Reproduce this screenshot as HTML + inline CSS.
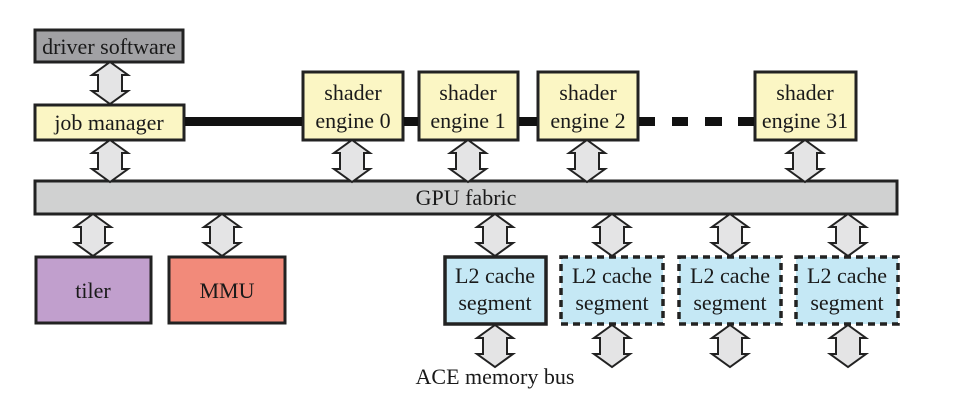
<!DOCTYPE html>
<html><head><meta charset="utf-8"><style>
html,body{margin:0;padding:0;background:#fff;}
svg{display:block;}
text{font-family:"Liberation Serif",serif;font-size:22px;fill:#1a1a1a;text-anchor:middle;}
</style></head><body>
<svg width="963" height="418" viewBox="0 0 963 418" xmlns="http://www.w3.org/2000/svg">
<g stroke="#222" stroke-width="3">
<rect x="35" y="30" width="148" height="32" fill="#a1a1a4"/>
<rect x="35" y="105" width="149" height="35" fill="#fbf6c4"/>
<rect x="303" y="72" width="100" height="68" fill="#fbf6c4"/>
<rect x="419" y="72" width="99" height="68" fill="#fbf6c4"/>
<rect x="538" y="72" width="100" height="68" fill="#fbf6c4"/>
<rect x="755" y="72" width="101" height="68" fill="#fbf6c4"/>
<rect x="35" y="181" width="862" height="33" fill="#d0d1d1"/>
<rect x="36" y="257" width="115" height="66" fill="#c19fcd"/>
<rect x="169" y="257" width="116" height="66" fill="#f28a7a"/>
<rect x="445" y="257" width="101" height="67" fill="#c5e8f5" stroke-width="3.5"/>
<g stroke-dasharray="7,5" stroke-width="3.5">
<rect x="561" y="257" width="102" height="67" fill="#c5e8f5"/>
<rect x="679" y="257" width="102" height="67" fill="#c5e8f5"/>
<rect x="796" y="257" width="102" height="67" fill="#c5e8f5"/>
</g>
</g>
<g fill="#111">
<rect x="185" y="117" width="117" height="9"/>
<rect x="404" y="117" width="14" height="9"/>
<rect x="519" y="117" width="18" height="9"/>
<rect x="639" y="117" width="16" height="9"/>
<rect x="672" y="117" width="16" height="9"/>
<rect x="705" y="117" width="17" height="9"/>
<rect x="738" y="117" width="16" height="9"/>
</g>
<g fill="#e4e4e5" stroke="#222" stroke-width="2" stroke-linejoin="miter">
<path id="a" d="M0,0 L18,13 L12,13 L12,29 L18,29 L0,42 L-18,29 L-12,29 L-12,13 L-18,13 Z" transform="translate(110,62)"/>
<use href="#a" transform="translate(0,78)"/>
<use href="#a" transform="translate(242,78)"/>
<use href="#a" transform="translate(358,78)"/>
<use href="#a" transform="translate(477,78)"/>
<use href="#a" transform="translate(695,78)"/>
<use href="#a" transform="translate(-17,152)"/>
<use href="#a" transform="translate(112,152)"/>
<use href="#a" transform="translate(385,152)"/>
<use href="#a" transform="translate(502,152)"/>
<use href="#a" transform="translate(620,152)"/>
<use href="#a" transform="translate(738,152)"/>
<use href="#a" transform="translate(385,263)"/>
<use href="#a" transform="translate(502,263)"/>
<use href="#a" transform="translate(620,263)"/>
<use href="#a" transform="translate(738,263)"/>
</g>
<text x="109" y="54">driver software</text>
<text x="109" y="130">job manager</text>
<text x="353" y="100">shader</text><text x="353" y="128">engine 0</text>
<text x="468" y="100">shader</text><text x="468" y="128">engine 1</text>
<text x="588" y="100">shader</text><text x="588" y="128">engine 2</text>
<text x="805" y="100">shader</text><text x="805" y="128">engine 31</text>
<text x="466" y="205">GPU fabric</text>
<text x="93" y="298">tiler</text>
<text x="227" y="298">MMU</text>
<text x="495" y="283">L2 cache</text><text x="495" y="310">segment</text>
<text x="612" y="283">L2 cache</text><text x="612" y="310">segment</text>
<text x="730" y="283">L2 cache</text><text x="730" y="310">segment</text>
<text x="847" y="283">L2 cache</text><text x="847" y="310">segment</text>
<text x="495" y="384">ACE memory bus</text>
</svg>
</body></html>
